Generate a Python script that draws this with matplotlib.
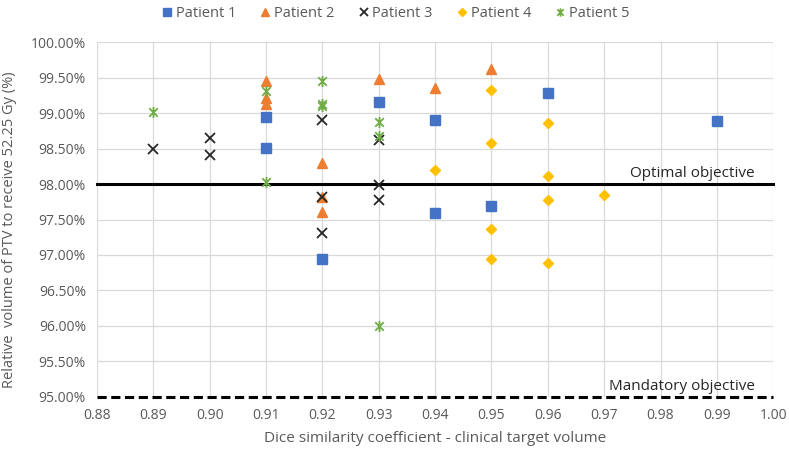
import matplotlib
matplotlib.use('Agg')
import matplotlib.pyplot as plt
import matplotlib.ticker as mticker
from matplotlib.path import Path

plt.rcParams['font.family'] = ['Open Sans', 'DejaVu Sans']

# dice coefficient / relative volume (%) for each patient
p1_x = [0.91, 0.91, 0.92, 0.93, 0.94, 0.94, 0.95, 0.96, 0.99]
p1_y = [98.94, 98.51, 96.94, 99.16, 98.90, 97.59, 97.69, 99.28, 98.89]

p2_x = [0.91, 0.91, 0.91, 0.92, 0.92, 0.92, 0.93, 0.94, 0.95]
p2_y = [99.45, 99.22, 99.13, 98.30, 97.82, 97.61, 99.48, 99.36, 99.62]

p3_x = [0.89, 0.90, 0.90, 0.92, 0.92, 0.92, 0.93, 0.93, 0.93]
p3_y = [98.49, 98.65, 98.41, 98.91, 97.82, 97.31, 98.62, 97.99, 97.77]

p4_x = [0.94, 0.95, 0.95, 0.95, 0.95, 0.96, 0.96, 0.96, 0.96, 0.97]
p4_y = [98.20, 99.32, 98.58, 97.36, 96.95, 98.86, 98.11, 97.78, 96.88, 97.85]

p5_x = [0.89, 0.91, 0.91, 0.92, 0.92, 0.92, 0.93, 0.93, 0.93]
p5_y = [99.02, 99.31, 98.03, 99.45, 99.13, 99.10, 98.88, 98.68, 96.00]

optimal = 98.0
mandatory = 95.0
x_ticks = [0.88, 0.89, 0.90, 0.91, 0.92, 0.93, 0.94, 0.95, 0.96, 0.97, 0.98, 0.99, 1.00]
y_ticks = [95.0, 95.5, 96.0, 96.5, 97.0, 97.5, 98.0, 98.5, 99.0, 99.5, 100.0]

# excel style "star" marker: X with a vertical bar
star = Path([(-1, -1), (1, 1), (-1, 1), (1, -1), (0, -1.3), (0, 1.3)],
            [Path.MOVETO, Path.LINETO, Path.MOVETO, Path.LINETO, Path.MOVETO, Path.LINETO])

fig = plt.figure(figsize=(7.89, 4.54), dpi=100)
ax = fig.add_axes([0.123, 0.126, 0.857, 0.781])

ax.plot(p1_x, p1_y, ls='none', marker='s', ms=7, color='#4472C4', label='Patient 1', zorder=3)
ax.plot(p2_x, p2_y, ls='none', marker='^', ms=7.5, color='#ED7D31', label='Patient 2', zorder=3)
ax.plot(p3_x, p3_y, ls='none', marker='x', ms=7.5, mew=1.3, color='#262626', label='Patient 3', zorder=3)
ax.plot(p4_x, p4_y, ls='none', marker='D', ms=5, color='#FFC000', label='Patient 4', zorder=3)
ax.plot(p5_x, p5_y, ls='none', marker=star, ms=8, mew=1.3, color='#70AD47', label='Patient 5', zorder=3)

ax.plot([0.88, 1.00], [optimal, optimal], color='black', lw=2.2, zorder=2, clip_on=False)
ax.plot([0.88, 1.00], [mandatory, mandatory], color='black', lw=2.2, ls=(0, (3, 1.5)), zorder=2, clip_on=False)
ax.text(0.9967, optimal + 0.04, 'Optimal objective', ha='right', va='bottom', fontsize=11, color='#262626')
ax.text(0.9967, mandatory + 0.04, 'Mandatory objective', ha='right', va='bottom', fontsize=11, color='#262626')

ax.set_xlim(0.88, 1.00)
ax.set_ylim(95.0, 100.0)
ax.set_xticks(x_ticks)
ax.set_yticks(y_ticks)
ax.xaxis.set_major_formatter(mticker.FormatStrFormatter('%.2f'))
ax.yaxis.set_major_formatter(mticker.FuncFormatter(lambda v, p: '%.2f%%' % v))
ax.tick_params(length=0, labelsize=10, labelcolor='#595959', pad=8)
ax.grid(True, color='#D9D9D9', lw=0.9, zorder=0)
ax.set_axisbelow(True)
for s in ax.spines.values():
    s.set_visible(False)

ax.set_xlabel('Dice similarity coefficient - clinical target volume', fontsize=11, color='#595959', labelpad=6)
ax.set_ylabel('Relative  volume of PTV to receive 52.25 Gy (%)', fontsize=10.5, color='#595959')
ax.yaxis.set_label_coords(-0.118, 0.47)

fig.legend(*ax.get_legend_handles_labels(), loc='upper center', bbox_to_anchor=(0.5, 1.015), ncol=5,
           frameon=False, fontsize=10.5, handletextpad=0.1, columnspacing=1.5, handlelength=1.0,
           markerscale=0.75, labelcolor='#595959')

fig.savefig('out.png', dpi=100)
